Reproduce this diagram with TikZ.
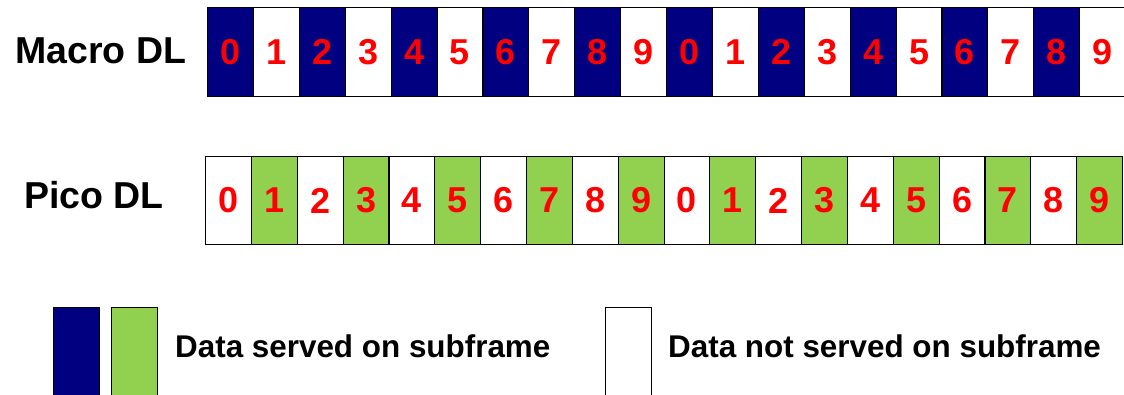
\documentclass[tikz,border=0pt]{standalone}
\usepackage{fontspec}
\setmainfont{Liberation Sans}
\definecolor{macroblue}{HTML}{000080}
\definecolor{picogreen}{HTML}{92D050}
\definecolor{digitred}{HTML}{FF0000}
\tikzset{
  cell/.style={draw=black, line width=1.1pt, rectangle, inner sep=0pt, anchor=north west,
    font=\fontsize{36}{40}\bfseries\selectfont, text=digitred},
  mcell/.style={cell, minimum width=45.9pt, minimum height=89pt},
  pcell/.style={cell, minimum width=45.85pt, minimum height=88pt},
  rowlabel/.style={font=\fontsize{37.5}{42}\bfseries\selectfont, anchor=base west, inner sep=0pt},
  legtext/.style={font=\fontsize{31.4}{36}\bfseries\selectfont, anchor=base west, inner sep=0pt},
  legbox/.style={draw=black, line width=1.1pt, rectangle, inner sep=0pt, anchor=north west,
    minimum width=46pt, minimum height=90pt},
}
\begin{document}
\begin{tikzpicture}[x=1pt,y=-1pt]
\useasboundingbox (0,0) rectangle (1124,394);
% Macro DL row
\node[rowlabel] (mlabel) at (15,63) {Macro DL};
\foreach \i in {0,...,19}{
  \pgfmathtruncatemacro{\d}{mod(\i,10)}
  \pgfmathtruncatemacro{\e}{mod(\i,2)}
  \ifnum\e=0
    \node[mcell, fill=macroblue] (m\i) at ({207+45.9*\i},7) {\d};
  \else
    \node[mcell, fill=white] (m\i) at ({207+45.9*\i},7) {\d};
  \fi
}
% Pico DL row
\node[rowlabel] (plabel) at (24,208) {Pico DL};
\foreach \i in {0,...,19}{
  \pgfmathtruncatemacro{\d}{mod(\i,10)}
  \pgfmathtruncatemacro{\e}{mod(\i,2)}
  \ifnum\e=1
    \node[pcell, fill=picogreen] (p\i) at ({205+45.85*\i},156) {\d};
  \else
    \node[pcell, fill=white] (p\i) at ({205+45.85*\i},156) {\d};
  \fi
}
% Legend
\node[legbox, fill=macroblue] (lb) at (53,307) {};
\node[legbox, fill=picogreen] (lg) at (111,307) {};
\node[legtext] (lt1) at (175,357) {Data served on subframe};
\node[legbox, fill=white] (lw) at (605,307) {};
\node[legtext] (lt2) at (668,357) {Data not served on subframe};
\end{tikzpicture}
\end{document}
